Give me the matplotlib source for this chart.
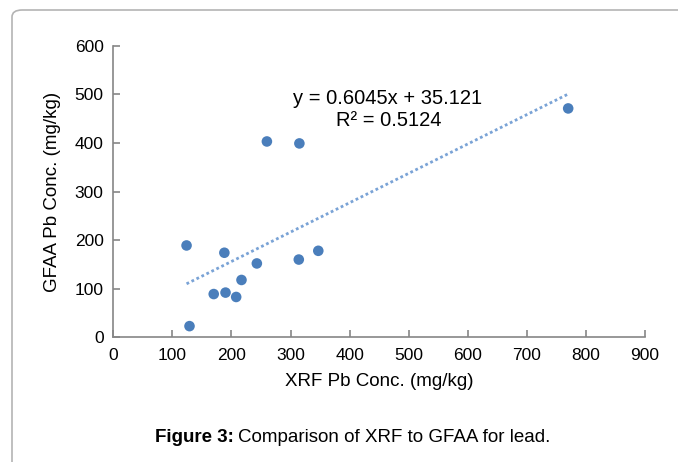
import matplotlib.pyplot as plt
from matplotlib.patches import FancyBboxPatch
import numpy as np

plt.rcParams['font.family'] = ['Liberation Sans', 'DejaVu Sans']

# XRF vs GFAA lead values (mg/kg)
xrf = [124, 129, 170, 190, 188, 208, 217, 243, 260, 315, 314, 347, 770]
gfaa = [189, 23, 89, 92, 174, 83, 118, 152, 403, 399, 160, 178, 471]
slope = 0.6045
intercept = 35.121

x_ticks = [0, 100, 200, 300, 400, 500, 600, 700, 800, 900]
y_ticks = [0, 100, 200, 300, 400, 500, 600]

fig = plt.figure(figsize=(6.78, 4.62), dpi=100)
ax = fig.add_axes([0.1671, 0.2699, 0.9513 - 0.1671, 0.901 - 0.2699])

# trendline from the fitted equation over the data range
xs = np.array([min(xrf), max(xrf)])
ax.plot(xs, slope * xs + intercept, linestyle=(0, (1, 1)), color='#7aa3d6',
        linewidth=2.0)
ax.scatter(xrf, gfaa, s=58, color='#4a7ebb', edgecolors='none', zorder=3)

ax.set_xlim(0, 900)
ax.set_ylim(0, 600)
ax.set_xticks(x_ticks)
ax.set_yticks(y_ticks)
for side in ['top', 'right']:
    ax.spines[side].set_visible(False)
for side in ['left', 'bottom']:
    ax.spines[side].set_color('#868686')
    ax.spines[side].set_linewidth(1.2)
ax.tick_params(direction='in', length=5, width=1.2, color='#868686',
               labelsize=12.5, labelcolor='black')
ax.tick_params(axis='x', pad=8)
ax.tick_params(axis='y', pad=7)

ax.set_xlabel('XRF Pb Conc. (mg/kg)', fontsize=13.5, labelpad=7)
ax.set_ylabel('GFAA Pb Conc. (mg/kg)', fontsize=13.5, labelpad=10)

ax.text(465, 492, 'y = 0.6045x + 35.121', fontsize=14.5, ha='center',
        va='center')
ax.text(467, 447, 'R\u00b2 = 0.5124', fontsize=14.5, ha='center',
        va='center')

# caption
fig.text(234 / 678, 1 - 438 / 462, 'Figure 3:', fontsize=13.5,
         fontweight='bold', ha='right', va='center')
fig.text(238 / 678, 1 - 438 / 462, 'Comparison of XRF to GFAA for lead.',
         fontsize=13.5, ha='left', va='center')

# page frame
frame = FancyBboxPatch((12 / 678, -0.1), 1.1, 0.1 + 1 - 10 / 462,
                       boxstyle='round,pad=0,rounding_size=0.015',
                       transform=fig.transFigure, facecolor='none',
                       edgecolor='#b4b4b4', linewidth=1.2)
fig.patches.append(frame)

fig.savefig('out.png', dpi=100)
